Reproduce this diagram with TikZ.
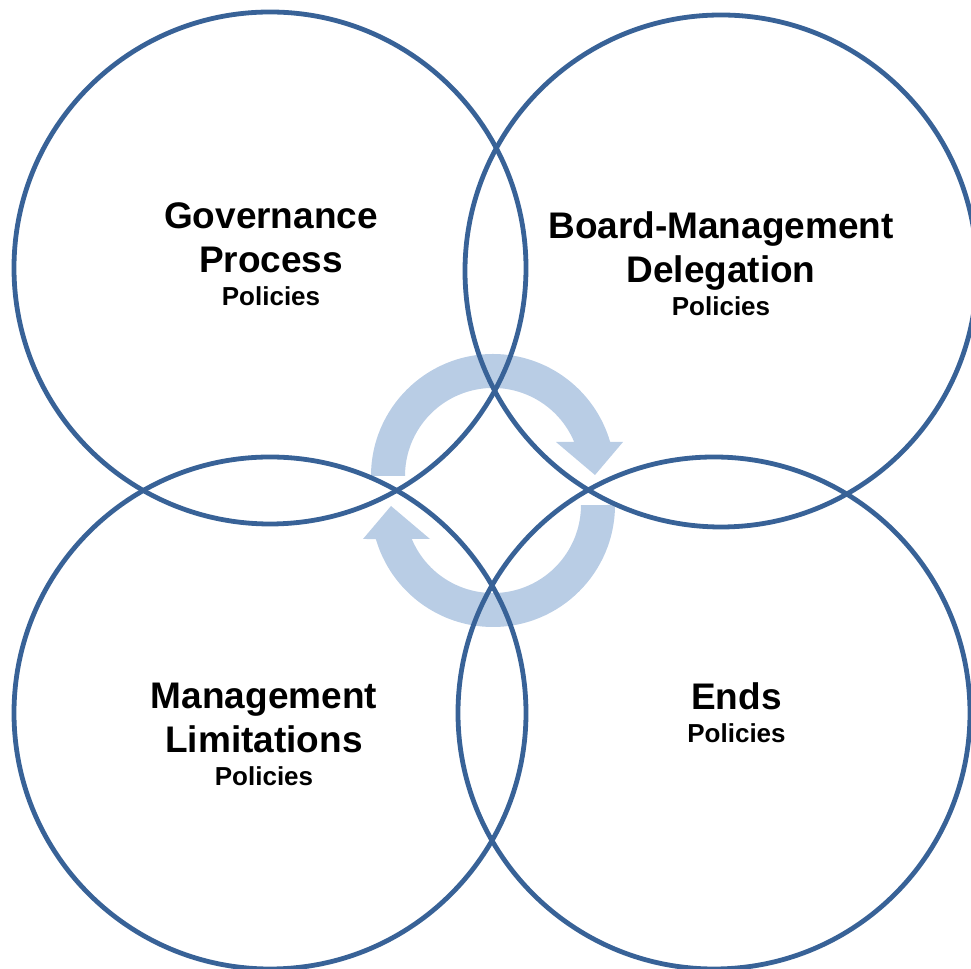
\documentclass[tikz,border=0pt]{standalone}
\usepackage{fontspec}
\setmainfont{Liberation Sans}
\usetikzlibrary{positioning}

\definecolor{ringblue}{RGB}{56,98,151}
\definecolor{loopblue}{RGB}{185,205,229}

\newcommand{\subline}[1]{{\fontsize{13}{15}\selectfont #1}}

\begin{document}
\begin{tikzpicture}[x=0.5pt,y=0.5pt,
  policy/.style={shape=circle,draw=ringblue,line width=2.4pt,minimum size=256pt,inner sep=0pt},
  caption/.style={align=center,inner sep=0pt,font=\fontsize{18.5}{22}\selectfont\bfseries},
  loop/.style={fill=loopblue,draw=none}]
\useasboundingbox (0,0) rectangle (971,969);

% the two turning arrows, second one is the first turned half way round
\coordinate (M) at (493,478.5);
\foreach \a in {0,180} {
  \fill[loop,rotate around={\a:(M)}] (371,493) arc[start angle=180,end angle=16.2,radius=122]
    -- (623,527) -- (595,494) -- (556,527)
    -- (574.2,527) arc[start angle=22.7,end angle=180,radius=88] -- cycle;
}

% the four policy areas
\node[policy] (GP) at (270,701) {};
\node[policy] (BD) at (721,698) {};
\node[policy] (ML) at (270,256) {};
\node[policy] (EP) at (714,256) {};

\node[caption] (GPt) at (271,715) {Governance\\Process\\[-5.5pt]\subline{Policies}};
\node[caption] (BDt) at (721,705) {Board-Management\\Delegation\\[-5.5pt]\subline{Policies}};
\node[caption] (MLt) at (264,234.5) {Management\\Limitations\\[-5.5pt]\subline{Policies}};
\node[caption] (EPt) at (736.5,256) {Ends\\[-5.5pt]\subline{Policies}};

\end{tikzpicture}
\end{document}
